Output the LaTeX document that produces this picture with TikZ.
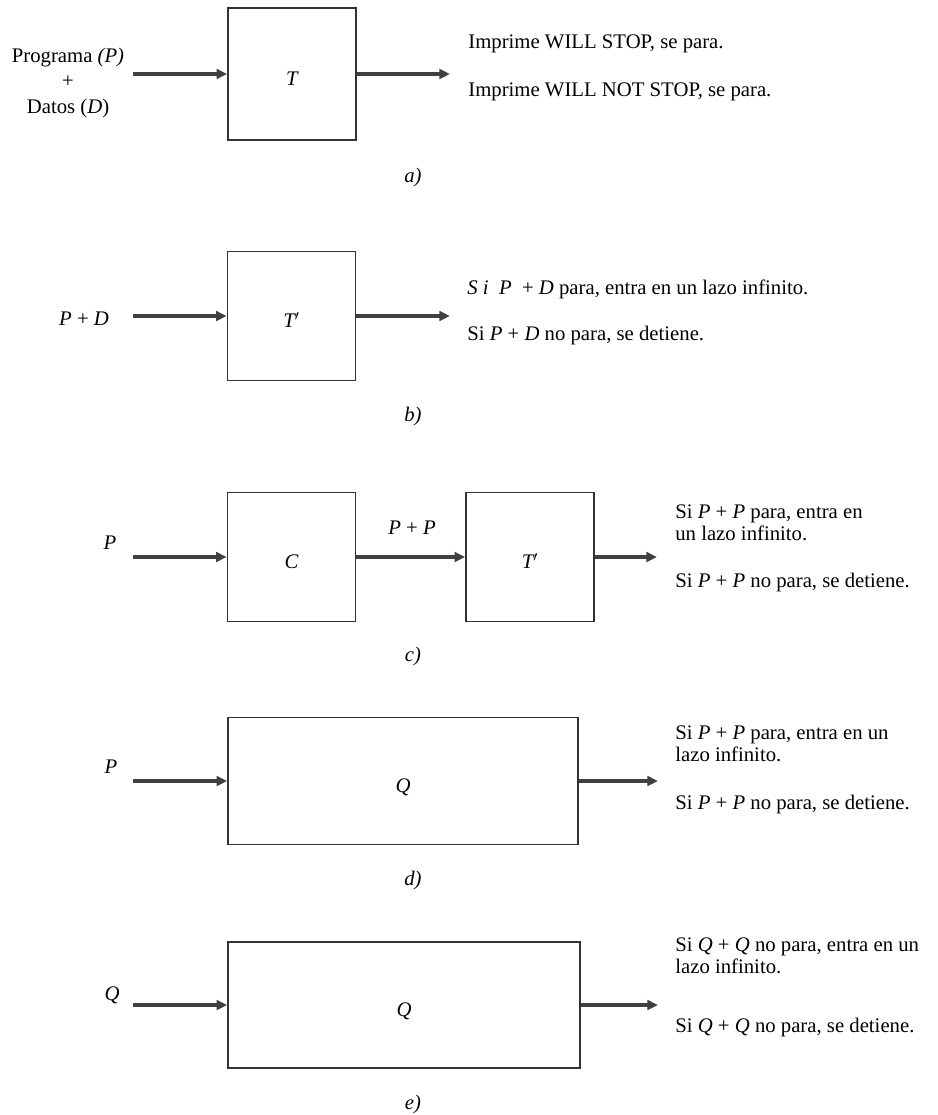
\documentclass[tikz,border=0pt]{standalone}
\usepackage{fontspec}
\setmainfont{Liberation Serif}
\usetikzlibrary{arrows.meta}

\begin{document}
\begin{tikzpicture}[x=0.02cm,y=-0.02cm,
    caja/.style={draw=black!80, line width=0.9pt, minimum width=2.56cm, minimum height=2.58cm, inner sep=0pt, text height=13.5pt, text depth=0pt, font=\fontsize{11.8}{14}\selectfont\itshape},
    flecha/.style={draw=black!75, line width=1.8pt, -{Triangle[length=6pt,width=5.4pt]}},
    texto/.style={anchor=west, inner sep=0pt, align=left, font=\fontsize{11.8}{12.6}\selectfont},
    etiq/.style={inner sep=0pt, font=\fontsize{11.8}{14}\selectfont}]
    \useasboundingbox (0,0) rectangle (937,1115);

    % a)
    \node [etiq, align=center, font=\fontsize{11.8}{14.7}\selectfont] (progA) at (68,83) {Programa \textit{(P)}\\+\\Datos (\textit{D})};
    \node [caja, minimum height=2.64cm] (cajaT) at (292,74) {T};
    \coordinate (inA) at (133,74);
    \coordinate (outA) at (450,74);
    \draw [flecha] (inA) -- (cajaT);
    \draw [flecha] (cajaT) -- (outA);
    \node [texto] (salA1) at (468,44) {Imprime WILL STOP, se para.};
    \node [texto] (salA2) at (468,92) {Imprime WILL NOT STOP, se para.};

    % b)
    \node [etiq] (progB) at (84,319) {\textit{P} + \textit{D}};
    \node [caja] (cajaTp) at (291.5,316) {T$'$};
    \coordinate (inB) at (133,316);
    \coordinate (outB) at (450,316);
    \draw [flecha] (inB) -- (cajaTp);
    \draw [flecha] (cajaTp) -- (outB);
    \node [texto] (salB1) at (467,289) {\textit{S i}\ \ \textit{P}\ \ + \textit{D} para, entra en un lazo infinito.};
    \node [texto] (salB2) at (467,336) {Si \textit{P} + \textit{D} no para, se detiene.};

    % c)
    \node [etiq] (progC) at (110,543) {\textit{P}};
    \node [caja] (cajaC) at (291.5,557) {C};
    \node [caja] (cajaTq) at (530,557) {T$'$};
    \coordinate (inC) at (133,557);
    \coordinate (outC) at (657,557);
    \draw [flecha] (inC) -- (cajaC);
    \draw [flecha] (cajaC) -- (cajaTq);
    \node [etiq] (pp) at (412,528) {\textit{P} + \textit{P}};
    \draw [flecha] (cajaTq) -- (outC);
    \node [texto] (salC1) at (675,523) {Si \textit{P} + \textit{P} para, entra en\\un lazo infinito.};
    \node [texto] (salC2) at (675,583) {Si \textit{P} + \textit{P} no para, se detiene.};

    % d)
    \node [etiq] (progD) at (111,767) {\textit{P}};
    \node [caja, minimum width=7cm, minimum height=2.54cm] (cajaQ) at (403,781) {Q};
    \coordinate (inD) at (133,781);
    \coordinate (outD) at (658,781);
    \draw [flecha] (inD) -- (cajaQ);
    \draw [flecha] (cajaQ) -- (outD);
    \node [texto] (salD1) at (675,744) {Si \textit{P} + \textit{P} para, entra en un\\lazo infinito.};
    \node [texto] (salD2) at (675,805) {Si \textit{P} + \textit{P} no para, se detiene.};

    % e)
    \node [etiq] (progE) at (112,995) {\textit{Q}};
    \node [caja, minimum width=7.04cm, minimum height=2.52cm] (cajaQq) at (404,1005) {Q};
    \coordinate (inE) at (133,1005);
    \coordinate (outE) at (658,1005);
    \draw [flecha] (inE) -- (cajaQq);
    \draw [flecha] (cajaQq) -- (outE);
    \node [texto] (salE1) at (675,956) {Si \textit{Q} + \textit{Q} no para, entra en un\\lazo infinito.};
    \node [texto] (salE2) at (675,1028) {Si \textit{Q} + \textit{Q} no para, se detiene.};

    \foreach \l/\y in {a/178,b/417,c/657,d/881,e/1104}
        \node [etiq] (cap\l) at (413,\y) {\textit{\l)}};
\end{tikzpicture}
\end{document}
